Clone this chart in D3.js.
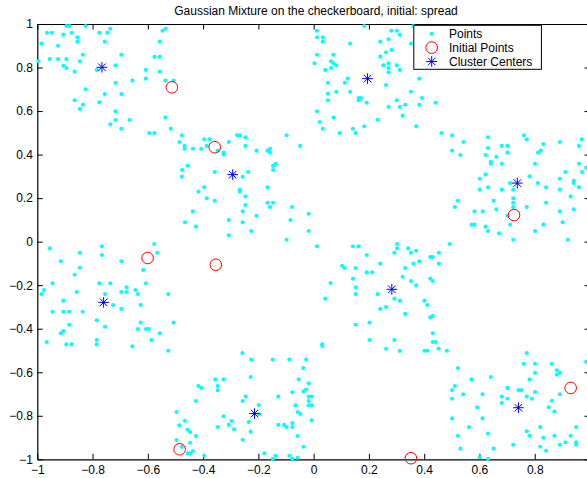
<!DOCTYPE html>
<html>
<head>
<meta charset="utf-8">
<script src="https://cdn.jsdelivr.net/npm/d3@7"></script>
<style>
  html, body { margin: 0; padding: 0; background: #fff; }
  svg { display: block; font-family: "Liberation Sans", Arial, Helvetica, sans-serif; }
  .axis path, .axis line { stroke: #000; }
  .axis text { fill: #000; font-size: 12px; }
</style>
</head>
<body>
<div id="chart"></div>
<script>
// Sample points drawn on a 4x4 checkerboard in [-1,1]^2
const points = [
  [-0.996,0.829],[-0.985,0.910],[-0.965,0.960],[-0.947,0.960],[-0.955,0.839],[-0.925,0.900],
  [-0.925,0.839],[-0.906,0.951],[-0.906,0.808],[-0.895,0.798],[-0.895,0.839],[-0.895,0.991],
  [-0.884,0.991],[-0.876,0.960],[-0.865,0.781],[-0.855,0.939],[-0.855,0.919],[-0.846,0.829],
  [-0.835,0.859],[-0.825,0.991],[-0.825,0.700],[-0.865,0.650],[-0.835,0.629],[-0.846,0.610],
  [-0.785,0.789],[-0.776,0.960],[-0.756,0.919],[-0.747,0.960],[-0.736,0.978],[-0.776,0.640],
  [-0.756,0.678],[-0.717,0.810],[-0.696,0.859],[-0.717,0.730],[-0.696,0.678],[-0.717,0.599],
  [-0.717,0.559],[-0.736,0.539],[-0.696,0.519],[-0.666,0.559],[-0.656,0.740],[-0.607,0.789],
  [-0.607,0.749],[-0.595,0.499],[-0.576,0.499],[-0.576,0.849],[-0.557,0.849],[-0.557,0.919],
  [-0.547,0.969],[-0.536,0.978],[-0.557,0.781],[-0.537,0.740],[-0.507,0.740],[-0.537,0.570],
  [-0.517,0.519],[-0.477,0.489],[-0.486,0.458],[-0.467,0.440],[-0.467,0.427],[-0.437,0.427],
  [-0.407,0.427],[-0.396,0.470],[-0.377,0.470],[-0.387,0.440],[-0.347,0.418],[-0.326,0.409],
  [-0.326,0.401],[-0.307,0.458],[-0.277,0.489],[-0.267,0.489],[-0.247,0.480],[-0.247,0.440],
  [-0.207,0.418],[-0.167,0.418],[-0.158,0.427],[-0.158,0.409],[-0.098,0.489],[-0.049,0.440],
  [0.012,0.969],[0.012,0.939],[0.033,0.939],[0.033,0.919],[0.183,0.991],[0.281,0.969],
  [0.301,0.969],[0.312,0.951],[0.361,0.991],[0.352,0.910],[0.132,0.910],[0.241,0.919],
  [0.271,0.930],[0.012,0.859],[0.071,0.859],[0.003,0.820],[0.042,0.789],[0.063,0.798],
  [0.063,0.829],[0.071,0.820],[0.082,0.810],[0.241,0.850],[0.262,0.870],[0.282,0.881],
  [0.252,0.810],[0.271,0.820],[0.271,0.798],[0.271,0.778],[0.301,0.810],[0.312,0.789],
  [0.113,0.730],[0.123,0.749],[0.052,0.730],[0.262,0.720],[0.382,0.749],[0.082,0.689],
  [0.052,0.680],[0.052,0.650],[0.132,0.689],[0.163,0.660],[0.172,0.660],[0.163,0.650],
  [0.192,0.638],[0.352,0.689],[0.301,0.650],[0.331,0.629],[0.312,0.619],[0.392,0.660],
  [0.382,0.629],[0.441,0.638],[0.271,0.619],[0.012,0.599],[0.072,0.570],[0.022,0.550],
  [0.033,0.519],[0.094,0.499],[0.142,0.519],[0.152,0.499],[0.183,0.530],[0.231,0.560],
  [0.322,0.579],[0.371,0.530],[0.462,0.499],[0.501,0.489],[0.542,0.458],[0.631,0.480],
  [0.501,0.418],[0.531,0.398],[0.622,0.398],[0.661,0.390],[0.631,0.430],[0.681,0.440],
  [0.701,0.440],[0.701,0.409],[0.761,0.489],[0.771,0.470],[0.831,0.449],[0.822,0.418],
  [0.812,0.409],[0.891,0.458],[0.960,0.440],[0.970,0.470],
  [0.641,0.367],[0.641,0.358],[0.681,0.358],[0.622,0.309],[0.601,0.289],[0.631,0.250],
  [0.601,0.239],[0.681,0.239],[0.711,0.269],[0.722,0.239],[0.781,0.300],[0.811,0.269],
  [0.841,0.250],[0.801,0.358],[0.911,0.320],[0.891,0.289],[0.941,0.280],[0.941,0.269],
  [0.891,0.239],[0.960,0.358],[0.971,0.320],[0.986,0.340],[0.960,0.250],[0.930,0.208],
  [0.941,0.149],[0.891,0.139],[0.901,0.089],[0.841,0.179],[0.831,0.078],[0.801,0.049],
  [0.771,0.159],[0.722,0.199],[0.722,0.179],[0.722,0.159],[0.661,0.149],[0.651,0.188],
  [0.582,0.139],[0.612,0.139],[0.701,0.119],[0.572,0.078],[0.582,0.078],[0.622,0.069],
  [0.631,0.049],[0.671,0.038],[0.711,0.078],[0.722,0.009],[0.920,0.009],[0.522,0.188],
  [0.511,0.159],
  [-0.078,0.159],[-0.084,0.099],[-0.018,0.128],[-0.018,0.049],[0.012,-0.021],[0.142,-0.021],
  [0.163,-0.021],[0.192,-0.061],[0.103,-0.111],[0.112,-0.121],[0.152,-0.121],[0.241,-0.101],
  [0.302,-0.011],[0.302,-0.031],[0.292,-0.051],[0.342,-0.031],[0.352,-0.051],[0.371,-0.042],
  [0.422,-0.071],[0.431,-0.071],[0.453,-0.051],[0.492,-0.011],[0.382,-0.090],[0.361,-0.101],
  [0.453,-0.101],[0.331,-0.121],[0.192,-0.141],[0.212,-0.141],[0.142,-0.170],[0.322,-0.161],
  [0.422,-0.170],[0.431,-0.181],[0.352,-0.181],[0.371,-0.201],[0.061,-0.190],[0.152,-0.210],
  [0.152,-0.241],[0.042,-0.262],[0.231,-0.241],[0.292,-0.262],[0.312,-0.271],[0.401,-0.271],
  [0.411,-0.291],[0.241,-0.309],[0.262,-0.300],
  [-0.476,0.329],[-0.477,0.298],[-0.456,0.349],[-0.358,0.320],[-0.257,0.298],[-0.237,0.320],
  [-0.147,0.348],[-0.137,0.358],[-0.147,0.329],[-0.396,0.250],[-0.417,0.230],[-0.387,0.199],
  [-0.358,0.188],[-0.267,0.239],[-0.267,0.230],[-0.247,0.208],[-0.167,0.250],[-0.167,0.179],
  [-0.147,0.179],[-0.158,0.159],[-0.247,0.168],[-0.257,0.139],[-0.207,0.119],[-0.437,0.139],
  [-0.466,0.089],[-0.426,0.069],[-0.307,0.099],[-0.257,0.089],[-0.226,0.049],[-0.307,0.029],
  [-0.098,0.009],
  [-0.577,-0.011],[-0.566,-0.051],[-0.617,-0.130],[-0.607,-0.191],[-0.636,-0.241],[-0.626,-0.291],
  [-0.645,-0.222],[-0.677,-0.210],[-0.677,-0.231],[-0.696,-0.231],[-0.696,-0.090],[-0.736,-0.191],
  [-0.776,-0.191],[-0.766,-0.021],[-0.766,-0.061],[-0.755,-0.241],[-0.726,-0.291],[-0.696,-0.309],
  [-0.526,-0.241],[-0.846,-0.051],[-0.846,-0.120],[-0.865,-0.152],[-0.857,-0.231],[-0.955,-0.031],
  [-0.915,-0.090],[-0.945,-0.191],[-0.906,-0.271],[-0.985,-0.241],[-0.976,-0.222],
  [-0.945,-0.322],[-0.906,-0.322],[-0.885,-0.322],[-0.836,-0.322],[-0.966,-0.461],[-0.915,-0.421],
  [-0.906,-0.411],[-0.895,-0.472],[-0.876,-0.472],[-0.885,-0.382],[-0.785,-0.361],[-0.785,-0.452],
  [-0.785,-0.472],[-0.755,-0.391],[-0.656,-0.481],[-0.636,-0.401],[-0.626,-0.372],[-0.607,-0.401],
  [-0.596,-0.401],[-0.587,-0.452],[-0.557,-0.421],[-0.526,-0.501],[-0.507,-0.372],
  [-0.258,-0.512],[-0.226,-0.542],[-0.148,-0.542],[-0.088,-0.542],[-0.054,-0.633],[-0.228,-0.622],
  [-0.356,-0.633],[-0.347,-0.663],[-0.347,-0.683],[-0.326,-0.633],[-0.417,-0.663],[-0.407,-0.672],
  [-0.426,-0.732],[-0.257,-0.732],[-0.246,-0.712],[-0.199,-0.751],[-0.077,-0.692],[-0.128,-0.712],
  [-0.066,-0.752],[-0.058,-0.783],[-0.197,-0.793],[-0.235,-0.829],[-0.228,-0.873],[-0.257,-0.910],
  [-0.128,-0.842],[-0.107,-0.842],[-0.098,-0.852],[-0.077,-0.852],[-0.077,-0.833],[-0.058,-0.893],
  [-0.326,-0.802],[-0.297,-0.824],[-0.307,-0.842],[-0.288,-0.862],[-0.347,-0.852],[-0.496,-0.783],
  [-0.486,-0.844],[-0.466,-0.823],[-0.456,-0.864],[-0.447,-0.875],[-0.426,-0.893],[-0.496,-0.911],
  [-0.447,-0.924],[-0.477,-0.942],[-0.456,-0.973],[-0.447,-0.973],[-0.437,-0.962],[-0.396,-0.984],
  [-0.178,-0.973],[-0.138,-0.984],[-0.088,-0.984],[-0.077,-0.998],[-0.148,-0.998],[-0.058,-0.993],
  [0.331,-0.332],[0.422,-0.348],[0.431,-0.342],[0.152,-0.382],[0.202,-0.372],[0.031,-0.472],
  [0.031,-0.480],[0.202,-0.452],[0.292,-0.452],[0.262,-0.492],[0.312,-0.502],[0.431,-0.421],
  [0.431,-0.461],[0.441,-0.461],[0.452,-0.492],[0.401,-0.501],[0.411,-0.501],[0.482,-0.501],
  [-0.027,-0.541],[-0.038,-0.581],[-0.018,-0.651],[-0.027,-0.679],[-0.037,-0.688],[-0.018,-0.712],
  [-0.007,-0.712],[-0.018,-0.732],[-0.018,-0.752],[-0.007,-0.752],[-0.048,-0.792],[-0.007,-0.821],
  [-0.037,-0.942],
  [0.522,-0.581],[0.501,-0.682],[0.511,-0.663],[0.501,-0.722],[0.541,-0.701],[0.501,-0.812],
  [0.522,-0.892],[0.531,-0.951],[0.571,-0.633],[0.611,-0.701],[0.592,-0.761],[0.611,-0.812],
  [0.562,-0.852],[0.631,-0.882],[0.601,-0.991],[0.631,-0.998],[0.651,-0.951],[0.641,-0.622],
  [0.681,-0.712],[0.681,-0.741],[0.701,-0.672],[0.701,-0.722],[0.722,-0.933],[0.741,-0.682],
  [0.751,-0.682],[0.771,-0.712],[0.790,-0.722],[0.801,-0.691],[0.760,-0.561],[0.771,-0.512],
  [0.801,-0.561],[0.801,-0.602],[0.781,-0.633],[0.771,-0.871],[0.781,-0.892],[0.820,-0.852],
  [0.831,-0.901],[0.820,-0.942],[0.841,-0.961],[0.862,-0.561],[0.880,-0.591],[0.891,-0.602],
  [0.880,-0.611],[0.862,-0.731],[0.851,-0.761],[0.871,-0.781],[0.891,-0.701],[0.871,-0.892],
  [0.891,-0.933],[0.911,-0.922],[0.930,-0.892],[0.950,-0.852],[0.950,-0.922],[0.950,-0.933],
  [0.986,-0.552]
];

// Starting positions used to seed the mixture components
const initialPoints = [
  [-0.513,0.709],[-0.358,0.434],[-0.354,-0.106],[-0.601,-0.075],
  [0.725,0.122],[-0.485,-0.954],[0.352,-0.995],[0.930,-0.672]
];

// Fitted component means
const clusterCenters = [
  [-0.766,0.801],[0.195,0.749],[-0.293,0.308],[0.737,0.269],
  [0.283,-0.219],[-0.760,-0.279],[-0.214,-0.790],[0.741,-0.763]
];

const tickValues = [-1,-0.8,-0.6,-0.4,-0.2,0,0.2,0.4,0.6,0.8,1];
const legendLabels = ["Points","Initial Points","Cluster Centers"];
const title = "Gaussian Mixture on the checkerboard, initial: spread";

(function draw() {
  const W = 587, H = 478;
  const mLeft = 37.3, mRight = 590, mTop = 24, mBottom = 459.3;

  const x = d3.scaleLinear().domain([-1, 1]).range([mLeft, mRight]);
  const y = d3.scaleLinear().domain([-1, 1]).range([mBottom, mTop]);

  const svg = d3.select("#chart").append("svg")
    .attr("width", W).attr("height", H);

  svg.append("rect").attr("width", W).attr("height", H).attr("fill", "#fff");

  // Title
  svg.append("text")
    .attr("x", 316).attr("y", 15)
    .attr("text-anchor", "middle")
    .attr("font-size", 12)
    .attr("fill", "#000")
    .text(title);

  const fmt = d3.format("~g");
  const tick = 5.5;

  // Bottom axis with labels; the axis box runs past the right edge of the figure,
  // so only the labels that land inside the figure are written
  const bottomAxis = svg.append("g").attr("class", "axis")
    .attr("transform", `translate(0,${mBottom})`)
    .call(d3.axisBottom(x).tickValues(tickValues).tickFormat(fmt)
      .tickSizeInner(-tick).tickSizeOuter(0).tickPadding(6.3));
  bottomAxis.selectAll(".tick text").filter(d => x(d) + 4 > W).remove();

  // Left axis with labels
  svg.append("g").attr("class", "axis")
    .attr("transform", `translate(${mLeft},0)`)
    .call(d3.axisLeft(y).tickValues(tickValues).tickFormat(fmt)
      .tickSizeInner(-tick).tickSizeOuter(0).tickPadding(4.3));

  // Top and right box edges with tick marks only
  svg.append("g").attr("class", "axis")
    .attr("transform", `translate(0,${mTop})`)
    .call(d3.axisTop(x).tickValues(tickValues).tickFormat("")
      .tickSizeInner(-tick).tickSizeOuter(0));

  svg.append("g").attr("class", "axis")
    .attr("transform", `translate(${mRight},0)`)
    .call(d3.axisRight(y).tickValues(tickValues).tickFormat("")
      .tickSizeInner(-tick).tickSizeOuter(0));

  svg.selectAll(".axis path.domain").attr("stroke-width", 1.2);

  // Markers
  const starPath = (r) => {
    const d = r * 0.72;
    return `M${-r},0L${r},0M0,${-r}L0,${r}M${-d},${-d}L${d},${d}M${-d},${d}L${d},${-d}`;
  };

  function drawDot(g, cx, cy) {
    g.append("circle").attr("cx", cx).attr("cy", cy).attr("r", 2.05).attr("fill", "#00ffff");
  }
  function drawRing(g, cx, cy) {
    g.append("circle").attr("cx", cx).attr("cy", cy).attr("r", 5.8)
      .attr("fill", "none").attr("stroke", "#ff0000").attr("stroke-width", 1);
  }
  function drawStar(g, cx, cy) {
    g.append("path").attr("d", starPath(5.3))
      .attr("transform", `translate(${cx},${cy})`)
      .attr("fill", "none").attr("stroke", "#0000ff").attr("stroke-width", 1);
  }

  const plot = svg.append("g");
  const gPts = plot.append("g");
  points.forEach(p => drawDot(gPts, x(p[0]), y(p[1])));
  const gInit = plot.append("g");
  initialPoints.forEach(p => drawRing(gInit, x(p[0]), y(p[1])));
  const gCent = plot.append("g");
  clusterCenters.forEach(p => drawStar(gCent, x(p[0]), y(p[1])));

  // Legend
  const lg = svg.append("g");
  lg.append("rect")
    .attr("x", 413.8).attr("y", 25.3).attr("width", 127.6).attr("height", 44)
    .attr("fill", "#fff").attr("stroke", "#000").attr("stroke-width", 1);
  const rowY = [33.8, 47.6, 61.5];
  const drawers = [drawDot, drawRing, drawStar];
  legendLabels.forEach((lab, i) => {
    drawers[i](lg, 431.7, rowY[i]);
    lg.append("text")
      .attr("x", 449).attr("y", rowY[i] + 4.3)
      .attr("font-size", 12).attr("fill", "#000")
      .text(lab);
  });
})();
</script>
</body>
</html>
